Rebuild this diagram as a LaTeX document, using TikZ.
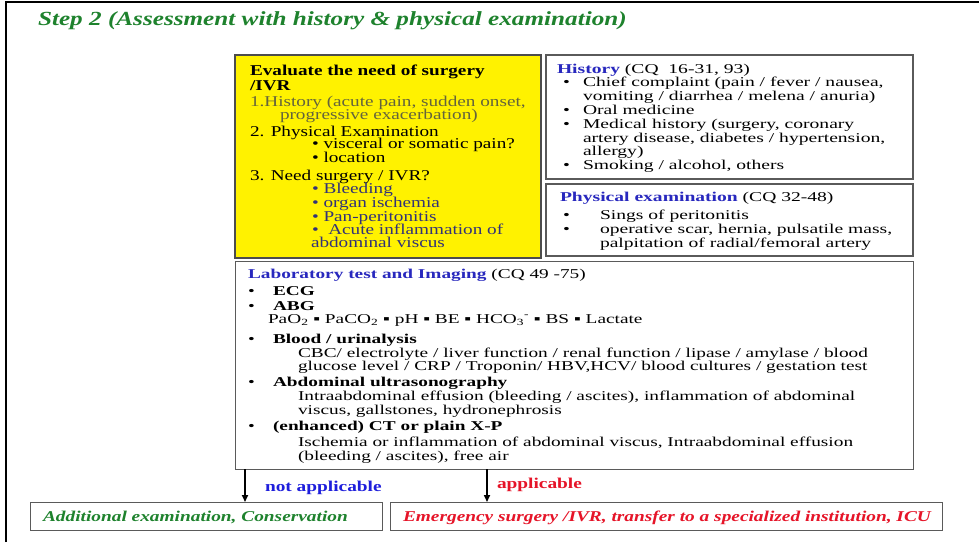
\documentclass[tikz,border=0pt]{standalone}
\usepackage{fontspec}
\setmainfont{Liberation Serif}
\newfontfamily\ysf[FakeStretch=1.28]{Liberation Serif}
\newfontfamily\hsf[FakeStretch=1.45]{Liberation Serif}
\newfontfamily\lsf[FakeStretch=1.43]{Liberation Serif}
\newfontfamily\tsf[FakeStretch=1.26]{Liberation Serif}
\newfontfamily\bsf[FakeStretch=1.29]{Liberation Serif}
\usetikzlibrary{arrows.meta}
\definecolor{titlegreen}{RGB}{30,130,45}
\definecolor{hdblue}{RGB}{40,40,190}
\definecolor{olivegray}{RGB}{100,100,60}
\definecolor{navy}{RGB}{50,50,120}
\definecolor{boxgray}{RGB}{90,90,90}
\definecolor{appred}{RGB}{230,20,40}
\definecolor{nablue}{RGB}{30,30,220}
\begin{document}
\begin{tikzpicture}[x=1pt,y=-1pt,
  txt/.style={anchor=base west,inner sep=0pt,outer sep=0pt},
  frame/.style={draw=boxgray,line width=1.4pt},
  ytxt/.style={txt,font=\ysf\fontsize{15}{15}\selectfont},
  htxt/.style={txt,font=\hsf\fontsize{13.5}{13.5}\selectfont},
  ltxt/.style={txt,font=\lsf\fontsize{13.5}{13.5}\selectfont},
  btxt/.style={txt,font=\bsf\fontsize{15}{15}\selectfont\bfseries},
  arr/.style={-{Triangle[length=7pt,width=6pt]},line width=1.6pt,black}]
\useasboundingbox (0,0) rectangle (979,542);
\fill[white] (0,0) rectangle (979,542);
% outer frame
\draw[line width=2pt] (6,542) -- (6,2) -- (979,2);
% title
\node[txt,font=\tsf\fontsize{20}{20}\selectfont\bfseries\itshape,text=titlegreen] (title) at (38,25) {Step 2 (Assessment with history \& physical examination)};
% boxes
\draw[frame,draw=black!70,fill=yellow] (235,55) rectangle (541,258);
\draw[frame] (546,55) rectangle (913,179);
\draw[frame] (546,184) rectangle (913,256);
\node[frame,draw,rectangle,minimum width=678pt,minimum height=208pt,anchor=north west,inner sep=0pt] (lab) at (235,261) {};
\node[frame,draw,rectangle,minimum width=352pt,minimum height=28pt,anchor=north west,inner sep=0pt] (left) at (30,502) {};
\node[frame,draw,rectangle,minimum width=552pt,minimum height=28pt,anchor=north west,inner sep=0pt] (right) at (390,502) {};
% yellow text
\node[ytxt] (y1) at (250,75) {\bfseries Evaluate the need of surgery};
\node[ytxt] (y2) at (250,90) {\bfseries /IVR};
\node[ytxt,text=olivegray] (y3) at (250,106) {1.History (acute pain, sudden onset,};
\node[ytxt,text=olivegray] (y4) at (280,119) {progressive exacerbation)};
\node[ytxt] (y5) at (250,136) {2. Physical Examination};
\node[ytxt] (y6) at (312,148) {\textbullet\ visceral or somatic pain?};
\node[ytxt] (y7) at (312,162) {\textbullet\ location};
\node[ytxt] (y8) at (250,180) {3. Need surgery / IVR?};
\node[ytxt,text=navy] (y9) at (312,193) {\textbullet\ Bleeding};
\node[ytxt,text=navy] (y10) at (312,207) {\textbullet\ organ ischemia};
\node[ytxt,text=navy] (y11) at (312,221) {\textbullet\ Pan-peritonitis};
\node[ytxt,text=navy] (y12) at (312,234) {\textbullet\ \ Acute inflammation of};
\node[ytxt,text=navy] (y13) at (311,247) {abdominal viscus};
% history text
\node[htxt] (h0) at (557,73) {\textcolor{hdblue}{\bfseries History} (CQ\ \ 16-31, 93)};
\node[htxt] (hb1) at (563,86) {\textbullet};
\node[htxt] (h1) at (583,86) {Chief complaint (pain / fever / nausea,};
\node[htxt] (h2) at (583,100) {vomiting / diarrhea / melena / anuria)};
\node[htxt] (hb3) at (563,114) {\textbullet};
\node[htxt] (h3) at (583,114) {Oral medicine};
\node[htxt] (hb4) at (563,128) {\textbullet};
\node[htxt] (h4) at (583,128) {Medical history (surgery, coronary};
\node[htxt] (h5) at (583,142) {artery disease, diabetes / hypertension,};
\node[htxt] (h6) at (583,155) {allergy)};
\node[htxt] (hb7) at (563,169) {\textbullet};
\node[htxt] (h7) at (583,169) {Smoking / alcohol, others};
% physical exam text
\node[htxt] (p0) at (560,201) {\textcolor{hdblue}{\bfseries Physical examination} (CQ 32-48)};
\node[htxt] (pb1) at (563,219) {\textbullet};
\node[htxt] (p1) at (600,219) {Sings of peritonitis};
\node[htxt] (pb2) at (563,233) {\textbullet};
\node[htxt] (p2) at (600,233) {operative scar, hernia, pulsatile mass,};
\node[htxt] (p3) at (600,247) {palpitation of radial/femoral artery};
% lab text
\node[ltxt] (l0) at (248,278) {\textcolor{hdblue}{\bfseries Laboratory test and Imaging} (CQ 49 -75)};
\node[ltxt] (lb1) at (248,295) {\textbullet};
\node[ltxt] (l1) at (273,295) {\bfseries ECG};
\node[ltxt] (lb2) at (248,310) {\textbullet};
\node[ltxt] (l2) at (273,310) {\bfseries ABG};
\node[ltxt] (l3) at (268,323) {PaO\textsubscript{2} ▪ PaCO\textsubscript{2} ▪ pH ▪ BE ▪ HCO\textsubscript{3}\textsuperscript{-} ▪ BS ▪ Lactate};
\node[ltxt] (lb4) at (248,343) {\textbullet};
\node[ltxt] (l4) at (273,343) {\bfseries Blood / urinalysis};
\node[ltxt] (l5) at (298,357) {CBC/ electrolyte / liver function / renal function / lipase / amylase / blood};
\node[ltxt] (l6) at (298,370) {glucose level / CRP / Troponin/ HBV,HCV/ blood cultures / gestation test};
\node[ltxt] (lb7) at (248,386) {\textbullet};
\node[ltxt] (l7) at (273,386) {\bfseries Abdominal ultrasonography};
\node[ltxt] (l8) at (298,400) {Intraabdominal effusion (bleeding / ascites), inflammation of abdominal};
\node[ltxt] (l9) at (298,414) {viscus, gallstones, hydronephrosis};
\node[ltxt] (lb10) at (248,430) {\textbullet};
\node[ltxt] (l10) at (273,430) {\bfseries (enhanced) CT or plain X-P};
\node[ltxt] (l11) at (298,446) {Ischemia or inflammation of abdominal viscus, Intraabdominal effusion};
\node[ltxt] (l12) at (298,460) {(bleeding / ascites), free air};
% arrows
\coordinate (a1s) at (245,469);
\coordinate (a2s) at (487,469);
\draw[arr] (a1s) -- (a1s |- left.north);
\draw[arr] (a2s) -- (a2s |- right.north);
\node[btxt,text=nablue] (na) at (265,491) {not applicable};
\node[btxt,text=appred] (ap) at (497,488) {applicable};
\node[btxt,font=\bsf\fontsize{15}{15}\selectfont\bfseries\itshape,text=titlegreen] (lt) at (43,521) {Additional examination, Conservation};
\node[btxt,font=\bsf\fontsize{15}{15}\selectfont\bfseries\itshape,text=appred] (rt) at (403,521) {Emergency surgery /IVR, transfer to a specialized institution, ICU};
\end{tikzpicture}
\end{document}
